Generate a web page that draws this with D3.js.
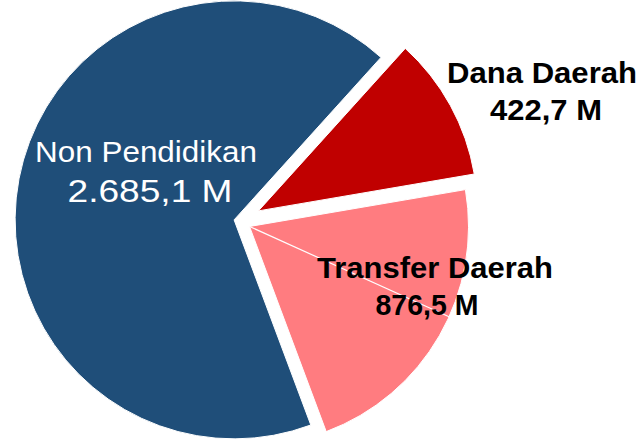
<!DOCTYPE html>
<html>
<head>
<meta charset="utf-8">
<script src="https://cdn.jsdelivr.net/npm/d3@7"></script>
<style>
  body { margin: 0; background: #fff; }
  text { font-family: "Liberation Sans", Arial, sans-serif; }
</style>
</head>
<body>
<div id="chart"></div>
<script>
"use strict";

// data, in Excel order (first slice starts lower right)
var categories = ["Non Pendidikan", "Dana Daerah", "Transfer Daerah"];
var values = [2685.1, 422.7, 876.5];
var valueLabels = ["2.685,1 M", "422,7 M", "876,5 M"];

// look
var colors = ["#1F4E79", "#C00000", "#FF7C80"];
var explode = [6, 21, 11];            // px each slice is pulled out
var labelColors = ["#fff", "#000", "#000"];
var labelWeights = ["normal", "bold", "bold"];

// label layout: centre x, baseline y, font size, drawn width  (name line, value line)
var nameLayout  = [[146, 162, 29, 222], [542, 83, 29, 190], [435, 278, 29, 236]];
var valueLayout = [[150, 202, 32, 165], [546, 120, 29, 112], [427, 315, 29, 103]];

var width = 644, height = 445;
var cx = 240, cy = 221, radius = 219;

var svg = d3.select("#chart")
  .append("svg")
  .attr("width", width)
  .attr("height", height);

var g = svg.append("g").attr("transform", "translate(" + cx + "," + cy + ")");

var start = 159.5 * Math.PI / 180;
var pie = d3.pie().sort(null).startAngle(start).endAngle(start + 2 * Math.PI);
var arc = d3.arc().innerRadius(0).outerRadius(radius);

var arcs = pie(values);

var offset = function(d, i) {
  var mid = (d.startAngle + d.endAngle) / 2;
  return [Math.sin(mid) * explode[i], -Math.cos(mid) * explode[i]];
};

var slices = g.selectAll("g.slice")
  .data(arcs)
  .enter()
  .append("g")
  .attr("class", "slice")
  .attr("transform", function(d, i) {
    var o = offset(d, i);
    return "translate(" + o[0] + "," + o[1] + ")";
  });

slices.append("path")
  .attr("d", arc)
  .style("fill", function(d, i) { return colors[i]; })
  .style("stroke", "#fff")
  .style("stroke-width", 1);

// thin white seam inside the Transfer Daerah slice
var seamAt = 0.43;
var seamAngle = function(d) { return d.startAngle + seamAt * (d.endAngle - d.startAngle); };
slices.filter(function(d, i) { return i === 2; })
  .append("line")
  .attr("x1", 0).attr("y1", 0)
  .attr("x2", function(d) { return Math.sin(seamAngle(d)) * radius; })
  .attr("y2", function(d) { return -Math.cos(seamAngle(d)) * radius; })
  .style("stroke", "#fff")
  .style("stroke-width", 1.2);

// labels, one text per line, stretched to the width seen in the original
var addLine = function(texts, layout) {
  svg.selectAll(null)
    .data(texts)
    .enter()
    .append("text")
    .attr("text-anchor", "middle")
    .style("font-size", function(d, i) { return layout[i][2] + "px"; })
    .style("font-weight", function(d, i) { return labelWeights[i]; })
    .style("fill", function(d, i) { return labelColors[i]; })
    .text(function(d) { return d; })
    .attr("transform", function(d, i) {
      var k = layout[i][3] / this.getComputedTextLength();
      return "translate(" + layout[i][0] + "," + layout[i][1] + ") scale(" + k + ",1)";
    });
};

addLine(categories, nameLayout);
addLine(valueLabels, valueLayout);
</script>
</body>
</html>
